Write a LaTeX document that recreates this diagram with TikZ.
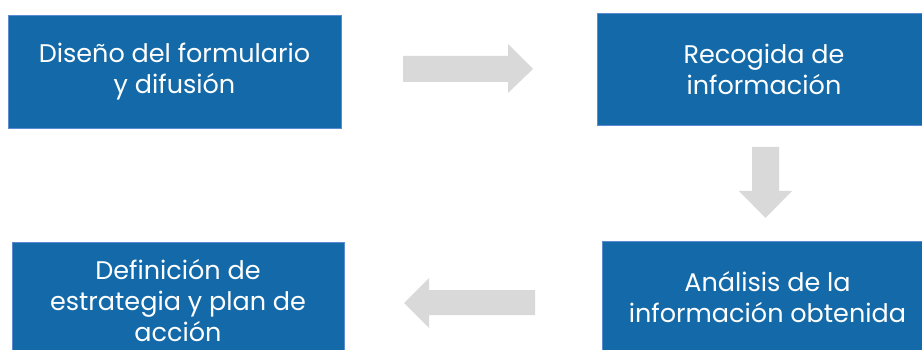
\documentclass[tikz,border=0pt]{standalone}
\usepackage{fontspec}
\setmainfont{Poppins}
\definecolor{boxblue}{HTML}{146AA8}
\definecolor{boxline}{HTML}{5B8BD0}
\definecolor{arrowgrey}{HTML}{D9D9D9}
\begin{document}
\begin{tikzpicture}[x=1pt,y=-1pt,
  stepbox/.style={draw=boxline, line width=0.8pt, fill=boxblue, text=white,
    align=center, inner sep=0pt, font=\fontsize{25.5}{31}\selectfont},
  blockarrow/.style={fill=arrowgrey, draw=none}]
\useasboundingbox (0,0) rectangle (922,350);
\node[stepbox, minimum width=333, minimum height=113] (b1) at (174.5,71.5)
  {Diseño del formulario\\y difusión};
\node[stepbox, minimum width=334, minimum height=112] (b2) at (764,69)
  {Recogida de\\información};
\node[stepbox, minimum width=331, minimum height=112] (b3) at (767.5,297)
  {Análisis de la\\información obtenida};
\node[stepbox, minimum width=332, minimum height=118] (b4) at (178,301)
  {Definición de\\estrategia y plan de\\acción};
% right arrow
\path[blockarrow] (403,56) -- (508,56) -- (508,44) -- (533,69) -- (508,93)
  -- (508,82) -- (403,82) -- cycle;
% down arrow
\path[blockarrow] (752,147) -- (779,147) -- (779,191) -- (792,191) -- (765.5,218)
  -- (739,191) -- (752,191) -- cycle;
% left arrow
\path[blockarrow] (535,290) -- (429,290) -- (429,278) -- (404,303) -- (429,328)
  -- (429,315) -- (535,315) -- cycle;
\end{tikzpicture}
\end{document}
